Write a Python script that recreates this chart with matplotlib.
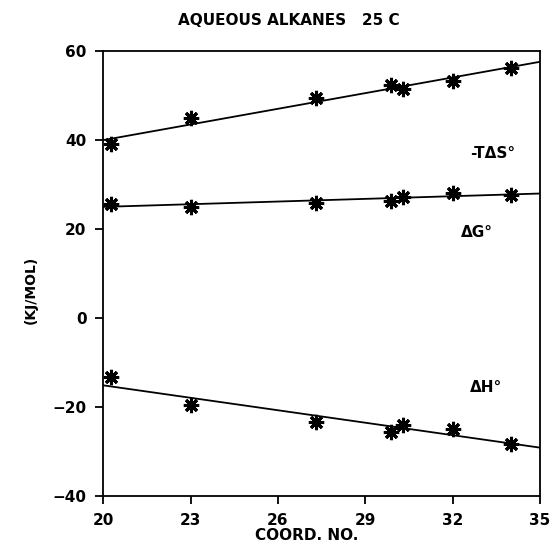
import matplotlib.pyplot as plt
import numpy as np

plt.rcParams['font.family'] = ['DejaVu Sans']

# coordination number of each alkane
coord = [20.25, 23.0, 27.3, 29.9, 30.3, 32.0, 34.0]
minus_tds = [39.1, 44.9, 49.4, 52.4, 51.6, 53.3, 56.1]
dg = [25.6, 25.0, 25.8, 26.3, 27.3, 28.2, 27.6]
dh = [-13.2, -19.6, -23.3, -25.5, -24.0, -24.9, -28.2]

# fitted straight lines, read at the two ends of the axis
fit_x = [20, 35]
fit_tds = [40.0, 57.6]
fit_dg = [25.0, 28.0]
fit_dh = [-15.1, -29.1]

fig = plt.figure(figsize=(5.52, 5.44), dpi=100)
ax = fig.add_axes([0.187, 0.088, 0.791, 0.818])

star = (8, 2, 0)
for ys, fy in [(minus_tds, fit_tds), (dg, fit_dg), (dh, fit_dh)]:
    ax.plot(fit_x, fy, color='black', lw=1.3)
    ax.plot(coord, ys, ls='none', marker=star, ms=11, mew=2.2, color='black')

ax.set_xlim(20, 35)
ax.set_ylim(-40, 60)
ax.set_xticks([20, 23, 26, 29, 32, 35])
ax.set_yticks([-40, -20, 0, 20, 40, 60])
ax.tick_params(direction='out', length=6, width=1.3, labelsize=11, pad=6)
for lab in ax.get_xticklabels() + ax.get_yticklabels():
    lab.set_fontweight('bold')
for s in ax.spines.values():
    s.set_linewidth(1.3)

ax.text(32.6, 37.0, '-TΔS°', fontsize=11, fontweight='bold', va='center')
ax.text(32.3, 19.3, 'ΔG°', fontsize=11, fontweight='bold', va='center')
ax.text(32.6, -15.7, 'ΔH°', fontsize=11, fontweight='bold', va='center')

fig.text(0.523, 0.962, 'AQUEOUS ALKANES   25 C', ha='center', va='center',
         fontsize=11, fontweight='bold')
fig.text(0.055, 0.467, '(KJ/MOL)', rotation=90, ha='center', va='center',
         fontsize=10, fontweight='bold')
fig.text(0.555, 0.016, 'COORD. NO.', ha='center', va='center',
         fontsize=11, fontweight='bold')

fig.savefig('out.png', dpi=100)
